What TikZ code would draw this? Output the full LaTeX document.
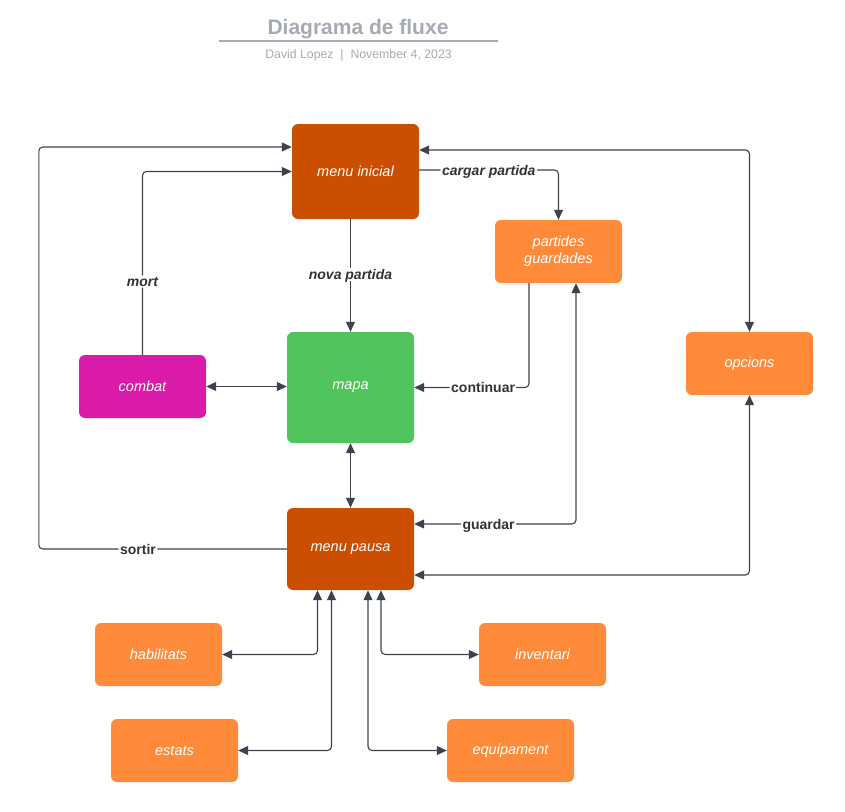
\documentclass[tikz,border=0pt]{standalone}
\usepackage{fontspec}
\setmainfont{Liberation Sans}
\usetikzlibrary{arrows.meta,positioning}
\definecolor{darkor}{HTML}{CC4E00}
\definecolor{lightor}{HTML}{FF8A3A}
\definecolor{magentabox}{HTML}{DA1BAA}
\definecolor{greenbox}{HTML}{52C45E}
\definecolor{linec}{HTML}{3D434C}
\definecolor{titlegray}{HTML}{A5AAB3}
\definecolor{lblc}{HTML}{333333}
\tikzset{
  box/.style={rounded corners=6pt, minimum width=127pt, minimum height=63pt, inner sep=2pt,
    text=white, font=\fontsize{14.5}{17}\selectfont\itshape, align=center, draw=none},
  arr/.style={draw=linec, line width=1.1pt, rounded corners=4pt, -{Triangle[length=10pt,width=9pt]}},
  darr/.style={draw=linec, line width=1.1pt, rounded corners=4pt, {Triangle[length=10pt,width=9pt]}-{Triangle[length=10pt,width=9pt]}},
  lbl/.style={fill=white, inner sep=1.5pt, text=lblc, font=\fontsize{14}{16}\selectfont\bfseries, text depth=0pt},
  lbli/.style={lbl, font=\fontsize{14}{16}\selectfont\bfseries\itshape}
}
\begin{document}
\begin{tikzpicture}[x=1pt,y=-1pt]
\useasboundingbox (0,0) rectangle (845,811);
% title
\node[text=titlegray, font=\fontsize{21}{25}\selectfont\bfseries] (title) at (358,29) {Diagrama de fluxe};
\draw[titlegray, line width=1.3pt] (219,41) -- (498,41);
\node[text=titlegray, font=\fontsize{12.3}{14}\selectfont] (sub) at (358.5,55) {David Lopez \ |\ \ November 4, 2023};
% nodes
\node[box, fill=darkor, minimum height=95pt] (inicial) at (355.5,171.5) {menu inicial};
\node[box, fill=lightor] (partides) at (558.5,251.5) {partides\\guardades};
\node[box, fill=lightor] (opcions) at (749.5,363.5) {opcions};
\node[box, fill=magentabox] (combat) at (142.5,386.5) {combat};
\node[box, fill=greenbox, minimum height=111pt] (mapa) at (350.5,387.5) {mapa};
\node[box, fill=darkor, minimum height=82pt] (pausa) at (350.5,549) {menu pausa};
\node[box, fill=lightor] (habilitats) at (158.5,654.5) {habilitats};
\node[box, fill=lightor] (inventari) at (542.5,654.5) {inventari};
\node[box, fill=lightor] (estats) at (174.5,750.5) {estats};
\node[box, fill=lightor] (equipament) at (510.5,750.5) {equipament};
% connectors
\draw[arr] (pausa.west) -- node[lbl, pos=0.6] {sortir} ++(-248,0) |- ([yshift=24.5]inicial.west);
\draw[arr] (combat.north) |- node[lbli, pos=0.2] {mort} (inicial.west);
\draw[arr] ([xshift=-5]inicial.south) -- node[lbli, pos=0.49] {nova partida} (mapa.north);
\draw[arr] ([yshift=1.5]inicial.east) -| node[lbli, pos=0.25] {cargar partida} (partides.north);
\draw[arr] ([xshift=-29.5]partides.south) |- node[lbl, pos=0.7] {continuar} (mapa.east);
\draw[darr] (combat.east) -- (combat.east -| mapa.west);
\draw[darr] (mapa.south) -- (pausa.north);
\draw[darr] ([yshift=25]pausa.east) -| node[lbl, pos=0.23] {guardar} ([xshift=17.5]partides.south);
\draw[darr] ([yshift=-26]pausa.east) -| (opcions.south);
\draw[darr] ([yshift=21.5]inicial.east) -| (opcions.north);
\draw[darr] (habilitats.east) -| ([xshift=-33]pausa.south);
\draw[darr] (estats.east) -| ([xshift=-19]pausa.south);
\draw[darr] (inventari.west) -| ([xshift=30.5]pausa.south);
\draw[darr] (equipament.west) -| ([xshift=17.5]pausa.south);
\end{tikzpicture}
\end{document}
